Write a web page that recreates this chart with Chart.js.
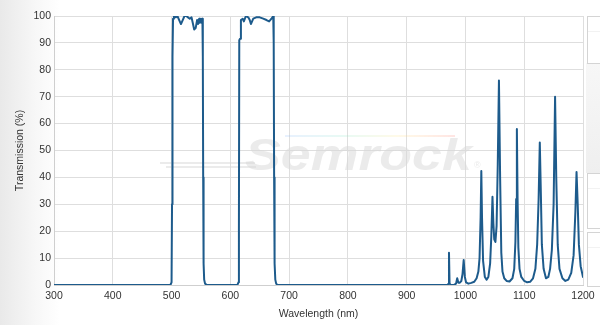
<!DOCTYPE html>
<html>
<head>
<meta charset="utf-8">
<script src="https://cdn.jsdelivr.net/npm/chart.js@4"></script>
<style>
  html, body { margin: 0; padding: 0; }
  body {
    width: 600px; height: 325px; overflow: hidden; position: relative;
    background: linear-gradient(to right, #e9e9e9 0px, #f7f7f7 35px, #ffffff 60px);
  }
  #wrap { position: absolute; left: 0; top: 0; width: 600px; height: 325px; }
  .side { position: absolute; left: 587px; width: 20px; background: #fff; border: 1px solid #d4d4d4; }
  .side:after { content: ""; position: absolute; left: 0; right: 0; top: 14px; border-top: 1px solid #f2f2f2; }
  #band { position: absolute; left: 586px; top: 63px; width: 14px; height: 110px;
    background: linear-gradient(to bottom, #f7f7f7, #efefef); }
</style>
</head>
<body>
<div id="band"></div>
<div class="side" style="top:16px;height:46px"></div>
<div class="side" style="top:173px;height:54px"></div>
<div class="side" style="top:232px;height:53px"></div>
<div id="wrap"><canvas id="graf" width="600" height="325"></canvas></div>
<script>
// wavelength (nm) and transmission (%)
const wavelength = [
  300, 498, 500, 500.8, 501.6, 502.5, 504, 507, 510, 513, 516, 519, 522, 525, 528, 531,
  534, 536.5, 538.5, 541, 543.5, 545, 547, 548, 550, 551, 552.5, 553.2, 553.8, 554.5, 555.5, 557, 560,
  612, 613.8, 614.6, 615.2, 616.5, 618, 621, 623, 626.5, 630.5, 633, 635, 639, 644,
  650, 656, 661.5, 666, 670, 673, 673.8, 674.5, 675.3, 676.5, 678, 680,
  970, 971, 972, 973, 975, 980, 984, 986, 988, 990, 993, 995, 997, 999, 1001,
  1005, 1010, 1015, 1019, 1022, 1024, 1025.8, 1027, 1028.2, 1030, 1033, 1036, 1039, 1042,
  1044, 1046, 1047.5, 1049, 1051, 1053, 1055, 1057, 1059, 1061, 1063, 1066, 1070, 1075,
  1080, 1083, 1085, 1086.3, 1087.5, 1088.7, 1090, 1092, 1095, 1100, 1105, 1110, 1115,
  1119, 1122, 1124.5, 1126.5, 1128.2, 1130, 1133, 1137, 1141, 1144, 1147, 1150, 1152.5,
  1154.5, 1157, 1160, 1165, 1170, 1175, 1180, 1184, 1187, 1189, 1191, 1193, 1196, 1200
];
const transmission = [
  0, 0, 1, 30, 85, 99, 100, 99.5, 100, 98.5, 97, 98.5, 100, 100, 99.5, 99,
  99.5, 97, 95, 95.5, 98.5, 97, 99, 97.5, 99, 97.5, 99, 85, 40, 8, 2, 0.5, 0,
  0, 1, 20, 91, 91.5, 98.5, 99, 98, 100, 99.5, 98.5, 97, 99, 99.5,
  99.5, 99, 98.5, 98, 99, 100, 90, 40, 8, 2, 0.5, 0,
  0, 0.5, 12, 0.5, 0, 0, 0.5, 2.5, 0.8, 0.8, 1.5, 4, 9.3, 3, 1,
  0.5, 0.8, 1.2, 2.5, 5, 10, 25, 42.4, 25, 9, 3, 2, 3, 8,
  18, 32.8, 23, 17, 16, 22, 45, 76, 40, 12, 5, 2.5, 1.5, 1.3,
  2.5, 6, 16, 32, 58, 32, 14, 6, 3, 1.5, 1, 1.2, 2.5,
  6, 15, 32, 53, 35, 15, 6, 2.5, 3, 6, 13, 30, 70,
  40, 15, 6, 2.5, 1.5, 2, 4.5, 11, 27, 42, 30, 15, 7, 3
];
const xTicks = [300, 400, 500, 600, 700, 800, 900, 1000, 1100, 1200];
const yTicks = [0, 10, 20, 30, 40, 50, 60, 70, 80, 90, 100];

const points = wavelength.map((w, i) => ({ x: w, y: transmission[i] }));
const fontFam = "'Liberation Sans', Arial, sans-serif";

// faint "Semrock" logo behind the plot
const watermark = {
  id: "watermark",
  beforeDatasetsDraw(chart) {
    const ctx = chart.ctx;
    ctx.save();
    const g = ctx.createLinearGradient(280, 0, 460, 0);
    g.addColorStop(0, "rgba(140,180,255,0.2)");
    g.addColorStop(0.35, "rgba(140,230,200,0.2)");
    g.addColorStop(0.65, "rgba(255,230,140,0.2)");
    g.addColorStop(1, "rgba(255,140,140,0.25)");
    ctx.fillStyle = g;
    ctx.fillRect(285, 135, 170, 2);
    ctx.fillStyle = "rgba(215,215,215,0.5)";
    ctx.fillRect(160, 162, 95, 2);
    ctx.fillRect(166, 166, 90, 2);
    ctx.translate(245, 170);
    ctx.scale(1.22, 1);
    ctx.font = "italic bold 44px " + fontFam;
    ctx.textBaseline = "alphabetic";
    ctx.fillText("Semrock", 0, 0);
    ctx.restore();
    ctx.save();
    ctx.fillStyle = "rgba(215,215,215,0.5)";
    ctx.font = "9px " + fontFam;
    ctx.fillText("\u00ae", 474, 168);
    ctx.restore();
  }
};

new Chart(document.getElementById("graf"), {
  type: "line",
  data: {
    datasets: [{
      data: points,
      borderColor: "#1d5b8c",
      borderWidth: 2,
      borderJoinStyle: "round",
      borderCapStyle: "round",
      pointRadius: 0,
      tension: 0,
      fill: false
    }]
  },
  options: {
    responsive: false,
    animation: false,
    plugins: { legend: { display: false }, tooltip: { enabled: false } },
    layout: { padding: { left: 0, right: 17, top: 16, bottom: 0 } },
    scales: {
      x: {
        type: "linear",
        min: 300, max: 1200,
        afterFit: s => { s.height = 40; },
        afterBuildTicks: s => { s.ticks = xTicks.map(v => ({ value: v })); },
        grid: { color: "#dedede", drawTicks: false, tickLength: 0 },
        border: { color: "#cfcfcf" },
        ticks: { color: "#333", font: { size: 10.5, family: fontFam }, padding: 5, maxRotation: 0,
          callback: v => String(v) },
        title: { display: true, text: "Wavelength (nm)", color: "#333",
          font: { size: 10.5, family: fontFam }, padding: { top: 2, bottom: 5 } }
      },
      y: {
        min: 0, max: 100,
        afterFit: s => { s.width = 54; },
        afterBuildTicks: s => { s.ticks = yTicks.map(v => ({ value: v })); },
        grid: { color: "#dedede", drawTicks: false, tickLength: 0 },
        border: { color: "#cfcfcf" },
        ticks: { color: "#333", font: { size: 10.5, family: fontFam }, padding: 3,
          callback: v => String(v) },
        title: { display: true, text: "Transmission (%)", color: "#333",
          font: { size: 10.5, family: fontFam }, padding: { top: 14, bottom: 4 } }
      }
    }
  },
  plugins: [watermark]
});
</script>
</body>
</html>
